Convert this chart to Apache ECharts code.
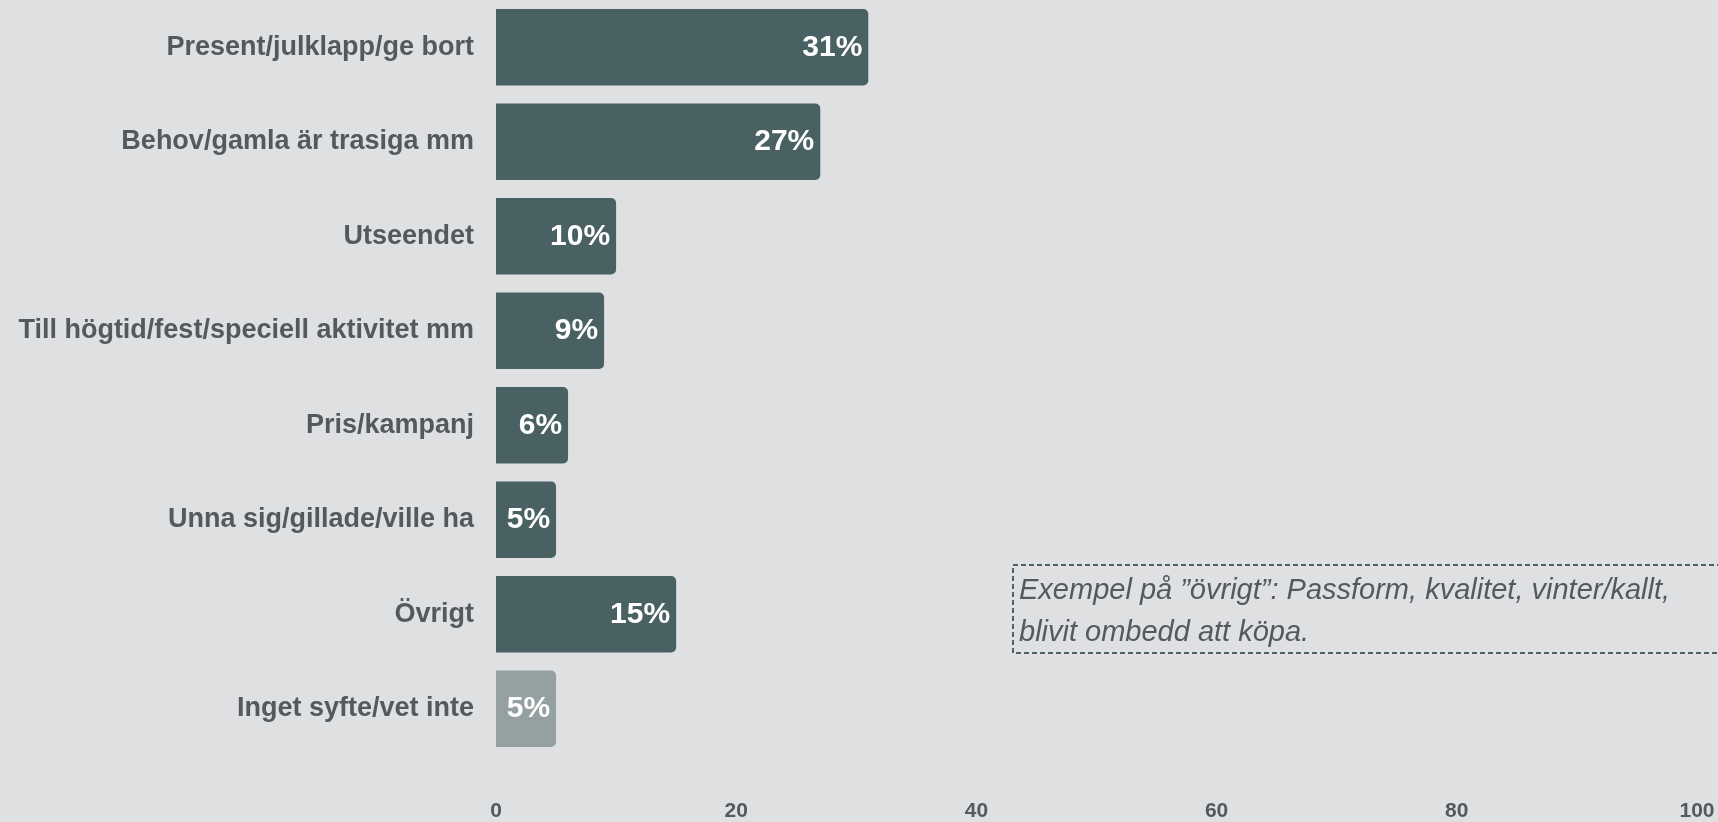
<!DOCTYPE html>
<html>
<head>
<meta charset="utf-8">
<script src="https://cdn.jsdelivr.net/npm/echarts@6/dist/echarts.min.js"></script>
<style>
html,body{margin:0;padding:0;background:#dfe0e2;}
#c{width:1718px;height:822px;}
</style>
</head>
<body>
<div id="c"></div>
<script>
const categories = [
  'Present/julklapp/ge bort',
  'Behov/gamla är trasiga mm',
  'Utseendet',
  'Till högtid/fest/speciell aktivitet mm',
  'Pris/kampanj',
  'Unna sig/gillade/ville ha',
  'Övrigt',
  'Inget syfte/vet inte'
];
const values = [31, 27, 10, 9, 6, 5, 15, 5];
const mutedCategories = ['Inget syfte/vet inte'];
const xTicks = [0, 20, 40, 60, 80, 100];
const noteLines = [
  'Exempel på ”övrigt”: Passform, kvalitet, vinter/kallt,',
  'blivit ombedd att köpa.'
];

const DARK = '#4a6163';
const LIGHT = '#95a0a1';
const TEXT = '#55595f';
const FONT = 'Liberation Sans, Arial, Helvetica, sans-serif';

const chart = echarts.init(document.getElementById('c'));
chart.setOption({
  backgroundColor: '#dfe0e2',
  animation: false,
  grid: { left: 496, right: 21, top: 0, bottom: 65, containLabel: false },
  xAxis: {
    type: 'value',
    min: xTicks[0],
    max: xTicks[xTicks.length - 1],
    interval: 20,
    axisLine: { show: false },
    axisTick: { show: false },
    splitLine: { show: false },
    axisLabel: {
      color: TEXT, fontSize: 21, fontWeight: 'bold', fontFamily: FONT, margin: 45
    }
  },
  yAxis: {
    type: 'category',
    data: categories,
    inverse: true,
    axisLine: { show: false },
    axisTick: { show: false },
    axisLabel: {
      color: TEXT, fontSize: 27, fontWeight: 'bold', fontFamily: FONT, margin: 22,
      padding: [5, 0, 0, 0]
    }
  },
  series: [{
    type: 'bar',
    barCategoryGap: '19%',
    data: values.map((v, i) => ({
      value: v,
      itemStyle: { color: mutedCategories.includes(categories[i]) ? LIGHT : DARK }
    })),
    itemStyle: { borderRadius: [0, 5, 5, 0] },
    label: {
      show: true,
      position: 'insideRight',
      distance: 6,
      formatter: '{c}%',
      color: '#ffffff',
      fontSize: 30,
      fontWeight: 'bold',
      fontFamily: FONT,
      padding: [6, 0, 0, 0]
    }
  }],
  graphic: [
    {
      type: 'rect',
      shape: { x: 1013, y: 565, width: 720, height: 88 },
      style: { fill: 'none', stroke: DARK, lineWidth: 2, lineDash: [5, 3] },
      silent: true
    },
    {
      type: 'text',
      x: 1019,
      y: 570,
      style: {
        text: noteLines.join('\n'),
        fill: TEXT,
        font: 'italic 29px ' + FONT,
        lineHeight: 42,
        verticalAlign: 'top'
      },
      silent: true
    }
  ]
});
</script>
</body>
</html>
